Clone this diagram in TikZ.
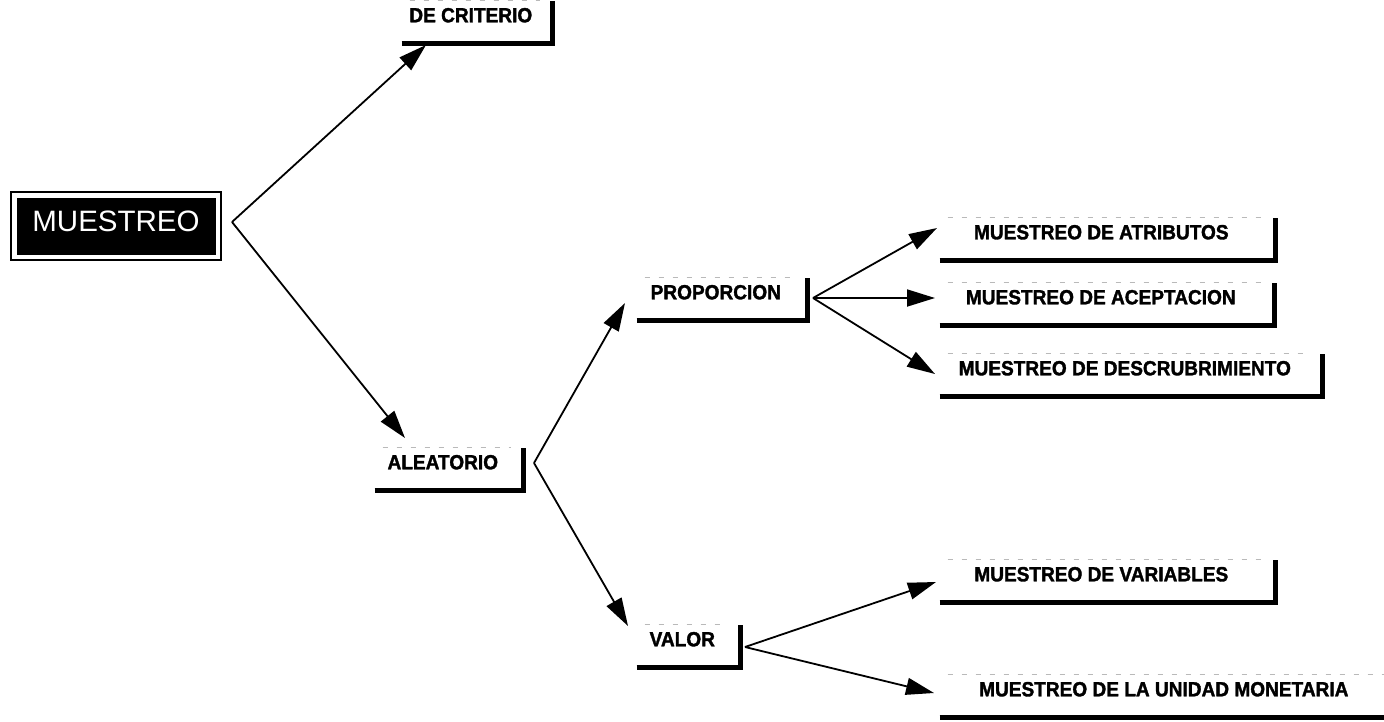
\documentclass[tikz,border=0pt]{standalone}
\usepackage{fontspec}
\setmainfont{Liberation Sans}[BoldFeatures={FakeBold=1.6,FakeStretch=0.93}]
\usetikzlibrary{arrows.meta}
\begin{document}
\begin{tikzpicture}[x=1pt,y=-1pt,
  lbl/.style={font=\fontsize{20.5}{20.5}\selectfont\bfseries, inner xsep=0pt, inner ysep=0pt,
    text height=13pt, text depth=12pt, minimum height=42pt, anchor=south east,
    execute at end node={\hspace*{12pt}}},
  lline/.style={line width=5pt, line join=miter, line cap=butt},
  faint/.style={gray!55, line width=0.7pt, dash pattern=on 5pt off 9pt},
  conn/.style={line width=1.8pt, -{Triangle[length=28pt,width=17pt]}},
  mainbox/.style={fill=black, draw=black, text=white, minimum width=198pt, minimum height=56pt,
    inner sep=0pt, font=\fontsize{29.5}{29.5}\selectfont, text height=21pt, text depth=10pt}
]
\useasboundingbox (0,0) rectangle (1384,721);
\clip (0,0) rectangle (1384,721);
\fill[white] (0,0) rectangle (1384,721);

% main node
\node[mainbox] (mu) at (116,226) {MUESTREO};
\draw[line width=2pt] ([shift={(-6pt,6pt)}]mu.north west) rectangle ([shift={(6pt,-6pt)}]mu.south east);

% labelled boxes
\node[lbl, minimum width=150pt] (cri) at (552,43) {DE CRITERIO};
\node[lbl, minimum width=148pt] (ale) at (523,490) {ALEATORIO};
\node[lbl, minimum width=170pt] (pro) at (807,320) {PROPORCION};
\node[lbl, minimum width=103pt] (val) at (740,667) {VALOR};
\node[lbl, minimum width=335pt] (atr) at (1275,260) {MUESTREO DE ATRIBUTOS};
\node[lbl, minimum width=334pt] (ace) at (1274,325) {MUESTREO DE ACEPTACION};
\node[lbl, minimum width=382pt] (des) at (1322,396) {MUESTREO DE DESCRUBRIMIENTO};
\node[lbl, minimum width=335pt] (var) at (1275,602) {MUESTREO DE VARIABLES};
\node[lbl, minimum width=460pt] (uni) at (1400,717) {MUESTREO DE LA UNIDAD MONETARIA};

\foreach \n in {cri,ale,pro,val,atr,ace,des,var,uni}{
  \draw[lline] (\n.south west) -- (\n.south east) -- (\n.north east);
  \draw[faint] ([xshift=8pt]\n.north west) -- ([xshift=-12pt]\n.north east);
}

% connector end points
\coordinate (mu-out) at (232,222);
\coordinate (cri-in) at (426,45);
\coordinate (ale-in) at (405,438);
\coordinate (ale-out) at (534,463);
\coordinate (pro-in) at (625,303);
\coordinate (val-in) at (628,626);
\coordinate (pro-out) at (813,298);
\coordinate (atr-in) at (937,228);
\coordinate (ace-in) at (935,298);
\coordinate (des-in) at (935,374);
\coordinate (val-out) at (745,647);
\coordinate (var-in) at (936,582);
\coordinate (uni-in) at (934,693);

\draw[conn] (mu-out) -- (cri-in);
\draw[conn] (mu-out) -- (ale-in);
\draw[conn] (ale-out) -- (pro-in);
\draw[conn] (ale-out) -- (val-in);
\draw[conn] (pro-out) -- (atr-in);
\draw[conn] (pro-out) -- (ace-in);
\draw[conn] (pro-out) -- (des-in);
\draw[conn] (val-out) -- (var-in);
\draw[conn] (val-out) -- (uni-in);
\end{tikzpicture}
\end{document}
